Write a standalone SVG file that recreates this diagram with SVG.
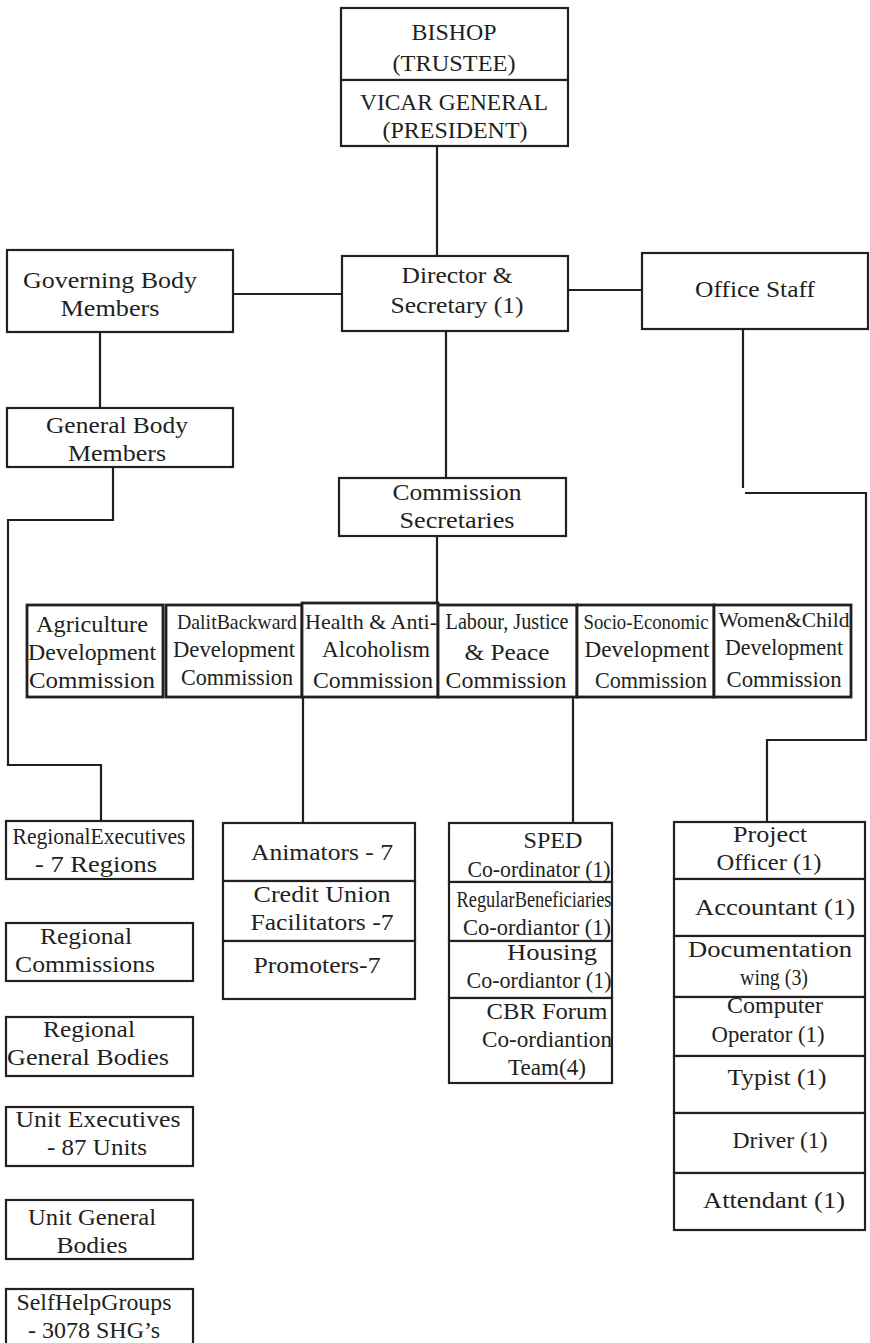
<svg xmlns="http://www.w3.org/2000/svg" width="870" height="1343" viewBox="0 0 870 1343">
<style>
.b{fill:#fff;stroke:#231f20;stroke-width:2.2}
.c{fill:#fff;stroke:#231f20;stroke-width:2.8}
.l{fill:none;stroke:#231f20;stroke-width:2.2}
text{font-family:"Liberation Serif","Times New Roman",serif;font-size:24px;fill:#231f20;text-anchor:middle}
</style>
<rect width="870" height="1343" fill="#fff"/>
<g id="connectors">
<path class="l" d="M437 146V256"/>
<path class="l" d="M233 294H342"/>
<path class="l" d="M568 290H642"/>
<path class="l" d="M446 331V478"/>
<path class="l" d="M100 332V408"/>
<path class="l" d="M113 467V520H8V765H101V821"/>
<path class="l" d="M437 536V605"/>
<path class="l" d="M743 329V488"/>
<path class="l" d="M745 493H866V740H767V822"/>
<path class="l" d="M303 697V823"/>
<path class="l" d="M573 697V823"/>
</g>
<g id="bishop">
<rect class="b" x="341" y="8" width="227" height="72"/>
<text x="454" y="40" textLength="85" lengthAdjust="spacingAndGlyphs">BISHOP</text>
<text x="454" y="71" textLength="123" lengthAdjust="spacingAndGlyphs">(TRUSTEE)</text>
</g>
<g id="vicar">
<rect class="b" x="341" y="80" width="227" height="66"/>
<text x="454" y="110" textLength="188" lengthAdjust="spacingAndGlyphs">VICAR GENERAL</text>
<text x="455" y="138" textLength="145" lengthAdjust="spacingAndGlyphs">(PRESIDENT)</text>
</g>
<g id="governing">
<rect class="b" x="7" y="250" width="226" height="82"/>
<text x="110" y="288" textLength="174" lengthAdjust="spacingAndGlyphs">Governing Body</text>
<text x="110" y="316" textLength="99" lengthAdjust="spacingAndGlyphs">Members</text>
</g>
<g id="director">
<rect class="b" x="342" y="256" width="226" height="75"/>
<text x="457" y="283" textLength="111" lengthAdjust="spacingAndGlyphs">Director &amp;</text>
<text x="457" y="313" textLength="133" lengthAdjust="spacingAndGlyphs">Secretary (1)</text>
</g>
<g id="office">
<rect class="b" x="642" y="253" width="226" height="76"/>
<text x="755" y="297" textLength="120" lengthAdjust="spacingAndGlyphs">Office Staff</text>
</g>
<g id="general">
<rect class="b" x="7" y="408" width="226" height="59"/>
<text x="117" y="433" textLength="142" lengthAdjust="spacingAndGlyphs">General Body</text>
<text x="117" y="461" textLength="98" lengthAdjust="spacingAndGlyphs">Members</text>
</g>
<g id="commsec">
<rect class="b" x="339" y="478" width="227" height="58"/>
<text x="457" y="500" textLength="129" lengthAdjust="spacingAndGlyphs">Commission</text>
<text x="457" y="528" textLength="115" lengthAdjust="spacingAndGlyphs">Secretaries</text>
</g>
<g id="agri">
<rect class="c" x="27" y="605" width="136" height="92"/>
<text x="92" y="632" textLength="112" lengthAdjust="spacingAndGlyphs">Agriculture</text>
<text x="92" y="660" textLength="128" lengthAdjust="spacingAndGlyphs">Development</text>
<text x="92" y="688" textLength="126" lengthAdjust="spacingAndGlyphs">Commission</text>
</g>
<g id="dalit">
<rect class="c" x="166" y="605" width="136" height="92"/>
<text x="237" y="629" style="font-size:21px" textLength="120" lengthAdjust="spacingAndGlyphs">DalitBackward</text>
<text x="234" y="657" textLength="122" lengthAdjust="spacingAndGlyphs">Development</text>
<text x="237" y="685" textLength="112" lengthAdjust="spacingAndGlyphs">Commission</text>
</g>
<g id="health">
<rect class="c" x="302" y="603" width="136" height="94"/>
<text x="371" y="629" style="font-size:22px" textLength="132" lengthAdjust="spacingAndGlyphs">Health &amp; Anti-</text>
<text x="376" y="657" textLength="108" lengthAdjust="spacingAndGlyphs">Alcoholism</text>
<text x="373" y="688" textLength="120" lengthAdjust="spacingAndGlyphs">Commission</text>
</g>
<g id="labour">
<rect class="c" x="438" y="605" width="139" height="92"/>
<text x="507" y="629" style="font-size:22.5px" textLength="123" lengthAdjust="spacingAndGlyphs">Labour, Justice</text>
<text x="507" y="660" textLength="85" lengthAdjust="spacingAndGlyphs">&amp; Peace</text>
<text x="506" y="688" textLength="121" lengthAdjust="spacingAndGlyphs">Commission</text>
</g>
<g id="socio">
<rect class="c" x="577" y="605" width="137" height="92"/>
<text x="646" y="629" style="font-size:21px" textLength="125" lengthAdjust="spacingAndGlyphs">Socio-Economic</text>
<text x="647" y="657" textLength="125" lengthAdjust="spacingAndGlyphs">Development</text>
<text x="651" y="688" textLength="112" lengthAdjust="spacingAndGlyphs">Commission</text>
</g>
<g id="women">
<rect class="c" x="714" y="605" width="137" height="92"/>
<text x="784" y="627" style="font-size:21px" textLength="131" lengthAdjust="spacingAndGlyphs">Women&amp;Child</text>
<text x="784" y="655" textLength="118" lengthAdjust="spacingAndGlyphs">Development</text>
<text x="784" y="687" textLength="115" lengthAdjust="spacingAndGlyphs">Commission</text>
</g>
<g id="regexec">
<rect class="b" x="6" y="821" width="187" height="58"/>
<text x="99" y="844" textLength="173" lengthAdjust="spacingAndGlyphs">RegionalExecutives</text>
<text x="96" y="872" textLength="122" lengthAdjust="spacingAndGlyphs">- 7 Regions</text>
</g>
<g id="regcomm">
<rect class="b" x="6" y="923" width="187" height="58"/>
<text x="86" y="944" textLength="92" lengthAdjust="spacingAndGlyphs">Regional</text>
<text x="85" y="972" textLength="140" lengthAdjust="spacingAndGlyphs">Commissions</text>
</g>
<g id="reggen">
<rect class="b" x="6" y="1017" width="187" height="59"/>
<text x="89" y="1037" textLength="92" lengthAdjust="spacingAndGlyphs">Regional</text>
<text x="88" y="1065" textLength="162" lengthAdjust="spacingAndGlyphs">General Bodies</text>
</g>
<g id="unitexec">
<rect class="b" x="6" y="1107" width="187" height="59"/>
<text x="98" y="1127" textLength="165" lengthAdjust="spacingAndGlyphs">Unit Executives</text>
<text x="97" y="1155" textLength="100" lengthAdjust="spacingAndGlyphs">- 87 Units</text>
</g>
<g id="unitgen">
<rect class="b" x="6" y="1200" width="187" height="59"/>
<text x="92" y="1225" textLength="128" lengthAdjust="spacingAndGlyphs">Unit General</text>
<text x="92" y="1253" textLength="71" lengthAdjust="spacingAndGlyphs">Bodies</text>
</g>
<g id="shg">
<rect class="b" x="6" y="1289" width="187" height="60"/>
<text x="94" y="1310" textLength="155" lengthAdjust="spacingAndGlyphs">SelfHelpGroups</text>
<text x="94" y="1338" textLength="132" lengthAdjust="spacingAndGlyphs">- 3078 SHG’s</text>
</g>
<g id="animators">
<rect class="b" x="223" y="823" width="192" height="58"/>
<text x="322" y="860" textLength="142" lengthAdjust="spacingAndGlyphs">Animators - 7</text>
</g>
<g id="credit">
<rect class="b" x="223" y="881" width="192" height="60"/>
<text x="322" y="902" textLength="137" lengthAdjust="spacingAndGlyphs">Credit Union</text>
<text x="322" y="930" textLength="143" lengthAdjust="spacingAndGlyphs">Facilitators -7</text>
</g>
<g id="promoters">
<rect class="b" x="223" y="941" width="192" height="58"/>
<text x="317" y="973" textLength="127" lengthAdjust="spacingAndGlyphs">Promoters-7</text>
</g>
<g id="sped">
<rect class="b" x="449" y="823" width="163" height="59"/>
<text x="553" y="848" textLength="59" lengthAdjust="spacingAndGlyphs">SPED</text>
<text x="539" y="877" textLength="143" lengthAdjust="spacingAndGlyphs">Co-ordinator (1)</text>
</g>
<g id="regular">
<rect class="b" x="449" y="882" width="163" height="59"/>
<text x="534" y="907" textLength="155" lengthAdjust="spacingAndGlyphs">RegularBeneficiaries</text>
<text x="537" y="935" textLength="148" lengthAdjust="spacingAndGlyphs">Co-ordiantor (1)</text>
</g>
<g id="housing">
<rect class="b" x="449" y="941" width="163" height="57"/>
<text x="552" y="960" textLength="90" lengthAdjust="spacingAndGlyphs">Housing</text>
<text x="539" y="988" textLength="145" lengthAdjust="spacingAndGlyphs">Co-ordiantor (1)</text>
</g>
<g id="cbr">
<rect class="b" x="449" y="998" width="163" height="85"/>
<text x="547" y="1019" textLength="121" lengthAdjust="spacingAndGlyphs">CBR Forum</text>
<text x="547" y="1047" textLength="130" lengthAdjust="spacingAndGlyphs">Co-ordiantion</text>
<text x="547" y="1075" textLength="78" lengthAdjust="spacingAndGlyphs">Team(4)</text>
</g>
<g id="project">
<rect class="b" x="674" y="822" width="191" height="57"/>
<text x="770" y="842" textLength="74" lengthAdjust="spacingAndGlyphs">Project</text>
<text x="769" y="870" textLength="105" lengthAdjust="spacingAndGlyphs">Officer (1)</text>
</g>
<g id="accountant">
<rect class="b" x="674" y="879" width="191" height="57"/>
<text x="775" y="915" textLength="160" lengthAdjust="spacingAndGlyphs">Accountant (1)</text>
</g>
<g id="documentation">
<rect class="b" x="674" y="936" width="191" height="61"/>
<text x="770" y="957" textLength="164" lengthAdjust="spacingAndGlyphs">Documentation</text>
<text x="774" y="985" textLength="68" lengthAdjust="spacingAndGlyphs">wing (3)</text>
</g>
<g id="computer">
<rect class="b" x="674" y="997" width="191" height="59"/>
<text x="775" y="1013" textLength="96" lengthAdjust="spacingAndGlyphs">Computer</text>
<text x="768" y="1042" textLength="113" lengthAdjust="spacingAndGlyphs">Operator (1)</text>
</g>
<g id="typist">
<rect class="b" x="674" y="1056" width="191" height="57"/>
<text x="777" y="1085" textLength="99" lengthAdjust="spacingAndGlyphs">Typist (1)</text>
</g>
<g id="driver">
<rect class="b" x="674" y="1113" width="191" height="60"/>
<text x="780" y="1148" textLength="95" lengthAdjust="spacingAndGlyphs">Driver (1)</text>
</g>
<g id="attendant">
<rect class="b" x="674" y="1173" width="191" height="57"/>
<text x="774" y="1208" textLength="142" lengthAdjust="spacingAndGlyphs">Attendant (1)</text>
</g>
</svg>
